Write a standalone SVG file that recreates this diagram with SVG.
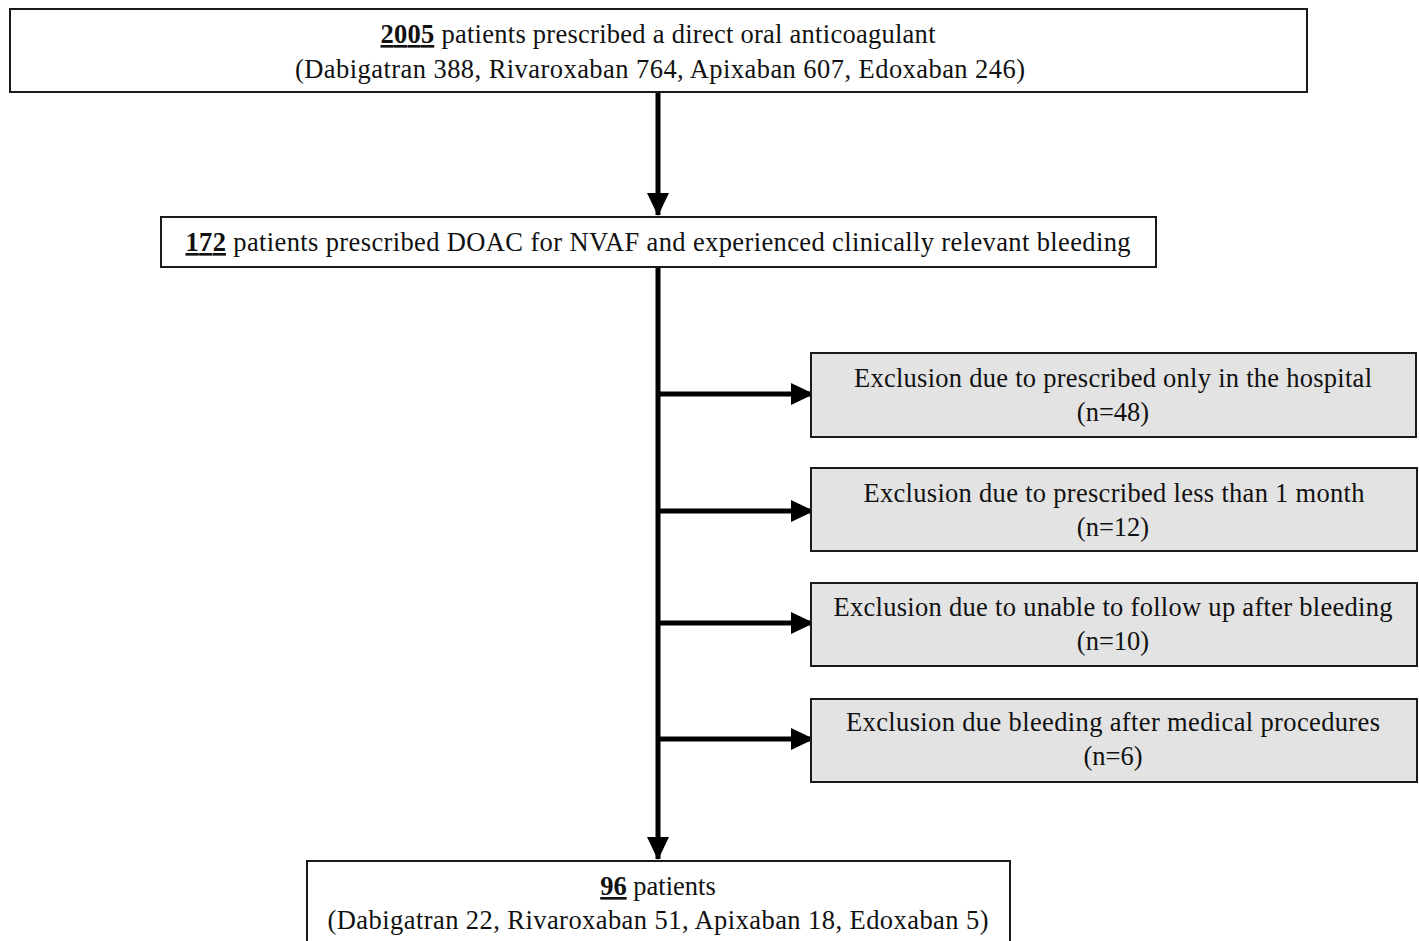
<svg xmlns="http://www.w3.org/2000/svg" width="1419" height="941" viewBox="0 0 1419 941">
<style>
.box{fill:#fff;stroke:#1a1a1a;stroke-width:2}
.gbox{fill:#e3e3e3;stroke:#1a1a1a;stroke-width:2}
.t{font-family:"Liberation Serif","Times New Roman",serif;font-size:26.5px;fill:#111;text-anchor:middle}
.n{font-weight:bold;text-decoration:underline}
.c{stroke:#000;stroke-width:5;fill:none}
</style>
<defs>
<marker id="ah" markerUnits="userSpaceOnUse" markerWidth="24" markerHeight="24" viewBox="0 0 24 24" refX="22" refY="12" orient="auto">
<path d="M0,1 L23,12 L0,23 Z" fill="#000"/>
</marker>
</defs>
<rect width="1419" height="941" fill="#fff"/>
<g id="connectors">
<line class="c" x1="658" y1="92" x2="658" y2="215" marker-end="url(#ah)"/>
<line class="c" x1="658" y1="267" x2="658" y2="859" marker-end="url(#ah)"/>
<line class="c" x1="656" y1="394" x2="813" y2="394" marker-end="url(#ah)"/>
<line class="c" x1="656" y1="511" x2="813" y2="511" marker-end="url(#ah)"/>
<line class="c" x1="656" y1="623" x2="813" y2="623" marker-end="url(#ah)"/>
<line class="c" x1="656" y1="739" x2="813" y2="739" marker-end="url(#ah)"/>
</g>
<g id="n1">
<rect class="box" x="10" y="9" width="1297" height="83"/>
<text class="t" x="658" y="43" textLength="555" lengthAdjust="spacing"><tspan class="n">2005</tspan> patients prescribed a direct oral anticoagulant</text>
<text class="t" x="660" y="78" textLength="730" lengthAdjust="spacing">(Dabigatran 388, Rivaroxaban 764, Apixaban 607, Edoxaban 246)</text>
</g>
<g id="n2">
<rect class="box" x="161" y="217" width="995" height="50"/>
<text class="t" x="658" y="251" textLength="945" lengthAdjust="spacing"><tspan class="n">172</tspan> patients prescribed DOAC for NVAF and experienced clinically relevant bleeding</text>
</g>
<g id="e1">
<rect class="gbox" x="811" y="353" width="605" height="84"/>
<text class="t" x="1113" y="387" textLength="518" lengthAdjust="spacing">Exclusion due to prescribed only in the hospital</text>
<text class="t" x="1113" y="421">(n=48)</text>
</g>
<g id="e2">
<rect class="gbox" x="811" y="468" width="606" height="83"/>
<text class="t" x="1114" y="502" textLength="501" lengthAdjust="spacing">Exclusion due to prescribed less than 1 month</text>
<text class="t" x="1113" y="536">(n=12)</text>
</g>
<g id="e3">
<rect class="gbox" x="811" y="583" width="606" height="83"/>
<text class="t" x="1113" y="616" textLength="559" lengthAdjust="spacing">Exclusion due to unable to follow up after bleeding</text>
<text class="t" x="1113" y="650">(n=10)</text>
</g>
<g id="e4">
<rect class="gbox" x="811" y="699" width="606" height="83"/>
<text class="t" x="1113" y="731" textLength="534" lengthAdjust="spacing">Exclusion due bleeding after medical procedures</text>
<text class="t" x="1113" y="765">(n=6)</text>
</g>
<g id="n3">
<rect class="box" x="307" y="861" width="703" height="100"/>
<text class="t" x="658" y="895"><tspan class="n">96</tspan> patients</text>
<text class="t" x="658" y="929" textLength="661" lengthAdjust="spacing">(Dabigatran 22, Rivaroxaban 51, Apixaban 18, Edoxaban 5)</text>
</g>
</svg>
